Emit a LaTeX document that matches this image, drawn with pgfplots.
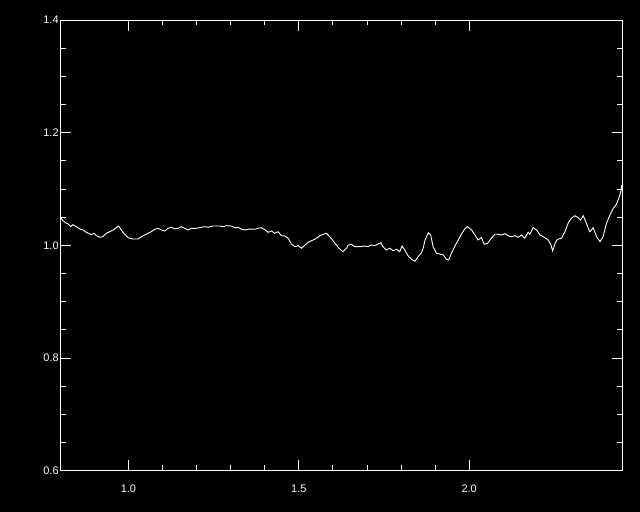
\documentclass[border=0pt]{standalone}
\usepackage{pgfplots}
\pgfplotsset{compat=1.18}
\usepackage{fontspec}
\setmainfont{Liberation Sans}
\begin{document}
\begin{tikzpicture}
\fill[black] (0,0) rectangle (640bp,512bp);
\begin{axis}[
  at={(60.3bp,41.2bp)}, anchor=south west,
  scale only axis, width=562.2bp, height=450.8bp,
  xmin=0.8, xmax=2.45, ymin=0.6, ymax=1.4,
  xtick={1.0,1.5,2.0}, ytick={0.6,0.8,1.0,1.2,1.4},
  minor x tick num=4, minor y tick num=3,
  major tick length=11bp, minor tick length=5.5bp,
  tick align=inside,
  axis line style={white, line width=0.9bp},
  every tick/.style={white, line width=0.9bp},
  tick label style={white, font=\fontsize{11}{13}\selectfont},
  /pgf/number format/assume math mode=true,
  xticklabel style={/pgf/number format/.cd, fixed, fixed zerofill, precision=1, /tikz/.cd, yshift=-11bp},
  yticklabel style={/pgf/number format/.cd, fixed, fixed zerofill, precision=1, /tikz/.cd, inner sep=1.5bp},
  scaled ticks=false,
  clip=true,
]
\addplot[white, line width=0.9bp] coordinates {
(0.801,1.0499) (0.808,1.0438) (0.815,1.0403) (0.823,1.0380) (0.831,1.0332)
(0.837,1.0367) (0.847,1.0332) (0.857,1.0291) (0.867,1.0273) (0.876,1.0233)
(0.883,1.0215) (0.891,1.0190) (0.899,1.0215) (0.906,1.0172) (0.916,1.0144)
(0.925,1.0154) (0.935,1.0215) (0.945,1.0243) (0.955,1.0273) (0.964,1.0314)
(0.971,1.0344) (0.979,1.0273) (0.989,1.0197) (0.999,1.0137) (1.013,1.0114)
(1.028,1.0114) (1.038,1.0154) (1.053,1.0202) (1.067,1.0243) (1.077,1.0286)
(1.087,1.0303) (1.097,1.0273) (1.107,1.0256) (1.116,1.0303) (1.126,1.0321)
(1.136,1.0291) (1.146,1.0303) (1.155,1.0332) (1.165,1.0303) (1.175,1.0273)
(1.185,1.0303) (1.199,1.0303) (1.214,1.0321) (1.224,1.0332) (1.234,1.0321)
(1.248,1.0344) (1.268,1.0344) (1.278,1.0332) (1.287,1.0350) (1.302,1.0344)
(1.312,1.0314) (1.322,1.0321) (1.331,1.0291) (1.341,1.0273) (1.356,1.0291)
(1.371,1.0286) (1.380,1.0303) (1.390,1.0314) (1.400,1.0279) (1.410,1.0233)
(1.420,1.0256) (1.429,1.0215) (1.439,1.0243) (1.449,1.0172) (1.459,1.0167)
(1.469,1.0126) (1.478,1.0025) (1.488,0.9977) (1.498,0.9995) (1.508,0.9949)
(1.518,1.0007) (1.527,1.0055) (1.542,1.0096) (1.552,1.0126) (1.562,1.0172)
(1.571,1.0197) (1.581,1.0215) (1.591,1.0154) (1.601,1.0078) (1.610,1.0007)
(1.620,0.9936) (1.630,0.9888) (1.640,0.9949) (1.645,1.0007) (1.654,1.0020)
(1.664,0.9977) (1.679,0.9977) (1.694,0.9989) (1.703,0.9977) (1.713,1.0007)
(1.723,0.9995) (1.733,1.0025) (1.741,1.0048) (1.747,0.9977) (1.757,0.9918)
(1.767,0.9949) (1.777,0.9906) (1.787,0.9931) (1.796,0.9888) (1.803,0.9989)
(1.811,0.9918) (1.821,0.9812) (1.831,0.9753) (1.841,0.9718) (1.850,0.9800)
(1.860,0.9871) (1.865,0.9949) (1.870,1.0083) (1.880,1.0225) (1.887,1.0185)
(1.894,0.9977) (1.904,0.9860) (1.914,0.9847) (1.924,0.9830) (1.933,0.9753)
(1.940,0.9741) (1.948,0.9860) (1.958,0.9989) (1.968,1.0096) (1.977,1.0197)
(1.987,1.0291) (1.995,1.0332) (2.007,1.0273) (2.017,1.0185) (2.026,1.0096)
(2.036,1.0137) (2.044,1.0020) (2.054,1.0037) (2.065,1.0126) (2.075,1.0197)
(2.085,1.0197) (2.095,1.0185) (2.105,1.0208) (2.114,1.0172) (2.124,1.0154)
(2.134,1.0172) (2.144,1.0144) (2.154,1.0185) (2.163,1.0126) (2.173,1.0233)
(2.178,1.0197) (2.188,1.0314) (2.198,1.0273) (2.208,1.0185) (2.212,1.0172)
(2.222,1.0137) (2.232,1.0096) (2.240,1.0007) (2.245,0.9901) (2.252,1.0037)
(2.259,1.0108) (2.271,1.0126) (2.281,1.0243) (2.291,1.0403) (2.300,1.0481)
(2.310,1.0527) (2.320,1.0492) (2.327,1.0451) (2.335,1.0527) (2.344,1.0392)
(2.354,1.0243) (2.364,1.0314) (2.374,1.0154) (2.384,1.0066) (2.393,1.0154)
(2.403,1.0392) (2.413,1.0539) (2.423,1.0658) (2.432,1.0729) (2.439,1.0836)
(2.445,1.0953) (2.448,1.1072)
};
\end{axis}
\end{tikzpicture}
\end{document}
